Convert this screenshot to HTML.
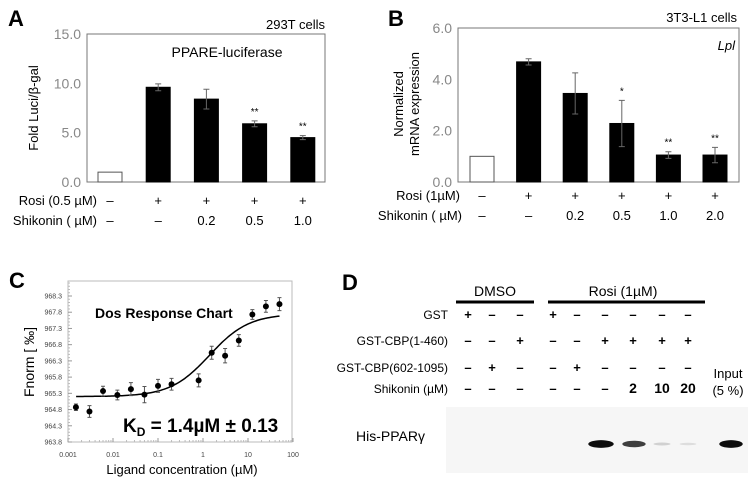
<!DOCTYPE html>
<html><head><meta charset="utf-8"><style>
html,body{margin:0;padding:0;background:#fff}
svg{display:block;font-family:"Liberation Sans",Arial,sans-serif}
</style></head><body>
<svg id="fig" width="754" height="480" viewBox="0 0 754 480" xmlns="http://www.w3.org/2000/svg">
<text x="8" y="26" font-size="22" font-weight="bold">A</text>
<text x="325" y="29" font-size="13" text-anchor="end">293T cells</text>
<text x="227" y="57" font-size="14" text-anchor="middle">PPARE-luciferase</text>
<text transform="translate(38,108) rotate(-90)" font-size="13" text-anchor="middle">Fold Luci/β-gal</text>
<g id="gA"></g>
<text x="97" y="205" font-size="13" text-anchor="end">Rosi (0.5 µM)</text>
<text x="97" y="225" font-size="13" text-anchor="end">Shikonin ( µM)</text>
<text x="388" y="26" font-size="22" font-weight="bold">B</text>
<text x="737" y="22" font-size="13" text-anchor="end">3T3-L1 cells</text>
<text x="735" y="50" font-size="13" font-style="italic" text-anchor="end">Lpl</text>
<text transform="translate(403,104) rotate(-90)" font-size="13" text-anchor="middle">Normalized</text>
<text transform="translate(419,104) rotate(-90)" font-size="13" text-anchor="middle">mRNA expression</text>
<g id="gB"></g>
<text x="460" y="200" font-size="13" text-anchor="end">Rosi (1µM)</text>
<text x="462" y="220" font-size="13" text-anchor="end">Shikonin ( µM)</text>
<text x="9" y="288" font-size="22" font-weight="bold">C</text>
<text transform="translate(34,362) rotate(-90)" font-size="14" text-anchor="middle">Fnorm [ ‰]</text>
<text x="182" y="474" font-size="13" text-anchor="middle">Ligand concentration (µM)</text>
<g id="gC"></g>
<text x="95" y="318" font-size="14" font-weight="bold">Dos Response Chart</text>
<text x="123" y="432" font-size="19" font-weight="bold">K<tspan font-size="12" dy="4">D</tspan><tspan dy="-4"> = 1.4µM ± 0.13</tspan></text>
<text x="342" y="290" font-size="22" font-weight="bold">D</text>
<text x="495" y="296" font-size="14" text-anchor="middle">DMSO</text>
<line x1="456" y1="302" x2="534" y2="302" stroke="#000" stroke-width="3"/>
<text x="623" y="296" font-size="14" text-anchor="middle">Rosi (1µM)</text>
<line x1="548" y1="302" x2="705" y2="302" stroke="#000" stroke-width="3"/>
<g id="gD" font-size="12"></g>
<text x="728" y="378" font-size="13" text-anchor="middle">Input</text>
<text x="728" y="395" font-size="13" text-anchor="middle">(5 %)</text>
<rect x="446" y="407" width="302" height="66" fill="#f6f6f6"/>
<text x="356" y="441" font-size="14">His-PPARγ</text>
<g id="gBands"></g>
</svg>
<script>
const aValues = [1.0, 9.6, 8.4, 5.9, 4.5];
const aErrors = [0, 0.35, 1.0, 0.3, 0.2];
const aStars = ["", "", "", "**", "**"];
const aRosi = ["–", "+", "+", "+", "+"];
const aShik = ["–", "–", "0.2", "0.5", "1.0"];
const aTicks = [0, 5, 10, 15];
const bValues = [1.0, 4.68, 3.45, 2.28, 1.05, 1.05];
const bErrors = [0, 0.12, 0.8, 0.9, 0.13, 0.3];
const bStars = ["", "", "", "*", "**", "**"];
const bRosi = ["–", "+", "+", "+", "+", "+"];
const bShik = ["–", "–", "0.2", "0.5", "1.0", "2.0"];
const bTicks = [0, 2, 4, 6];
const cConc = [0.0015, 0.003, 0.006, 0.0125, 0.025, 0.05, 0.1, 0.2, 0.8, 1.56, 3.1, 6.25, 12.5, 25, 50];
const cFnorm = [964.87, 964.74, 965.37, 965.25, 965.43, 965.26, 965.53, 965.58, 965.70, 966.55, 966.46, 966.93, 967.73, 967.98, 968.05];
const cErr = [0.1, 0.18, 0.15, 0.15, 0.2, 0.25, 0.2, 0.18, 0.2, 0.2, 0.22, 0.18, 0.15, 0.18, 0.2];
const cYTicks = [963.8, 964.3, 964.8, 965.3, 965.8, 966.3, 966.8, 967.3, 967.8, 968.3];
const cXTicks = [0.001, 0.01, 0.1, 1, 10, 100];
const cFit = {bottom: 965.2, top: 967.75, kd: 1.4};
const dRows = ["GST", "GST-CBP(1-460)", "GST-CBP(602-1095)", "Shikonin (µM)"];
const dTable = [
 ["+","–","–","+","–","–","–","–","–"],
 ["–","–","+","–","–","+","+","+","+"],
 ["–","+","–","–","+","–","–","–","–"],
 ["–","–","–","–","–","–","2","10","20"]];
const dBands = [0, 0, 0, 0, 0, 0.95, 0.75, 0.15, 0.1, 0.95];

const NS = "http://www.w3.org/2000/svg";
function mk(parent, tag, attrs, txt){const e=document.createElementNS(NS,tag);for(const k in attrs)e.setAttribute(k,attrs[k]);if(txt!==undefined)e.textContent=txt;parent.appendChild(e);return e;}

function barPanel(g, o){
  const y = v => o.y0 - (v - 0) / o.max * (o.y0 - o.y1);
  const x = i => o.x0c + i * o.step;
  const box = mk(g,"rect",{x:o.bx0,y:o.y1,width:o.bx1-o.bx0,height:o.y0-o.y1,fill:"none",stroke:"#777","stroke-width":1});
  
  
  o.ticks.forEach(t=>{
    const tl = mk(g,"text",{x:o.bx0-6,y:y(t)+5,"font-size":14,fill:"#888","text-anchor":"end"},t.toFixed(1));
    
    
  });
  o.values.forEach((v,i)=>{
    const cx=x(i);
    const b = mk(g,"rect",{x:cx-o.w/2,y:y(v),width:o.w,height:o.y0-y(v),fill:i===0?"#fff":"#000",stroke:i===0?"#555":"#000","stroke-width":1});
    
    
    const e=o.errors[i];
    if(e>0){
      const eb = mk(g,"path",{d:`M${cx},${y(v-e)}V${y(v+e)}M${cx-3},${y(v+e)}H${cx+3}M${cx-3},${y(v-e)}H${cx+3}`,stroke:"#666","stroke-width":1,fill:"none"});
      
      
    }
    if(o.stars[i]){
      const s = mk(g,"text",{x:cx,y:y(v+e)-6,"font-size":10,"text-anchor":"middle"},o.stars[i]);
      
      
    }
    const r = mk(g,"text",{x:cx,y:o.rowY1,"font-size":13,"text-anchor":"middle"},o.rosi[i]);
    
    
    const sh = mk(g,"text",{x:cx,y:o.rowY2,"font-size":13,"text-anchor":"middle"},o.shik[i]);
    
    
  });
}
barPanel(document.getElementById("gA"),{values:aValues,errors:aErrors,stars:aStars,rosi:aRosi,shik:aShik,ticks:aTicks,max:15,y0:182,y1:34,bx0:87,bx1:325,x0c:110,step:48.2,w:24,rowY1:205,rowY2:225});
barPanel(document.getElementById("gB"),{values:bValues,errors:bErrors,stars:bStars,rosi:bRosi,shik:bShik,ticks:bTicks,max:6,y0:182,y1:28,bx0:458,bx1:739,x0c:482,step:46.6,w:24,rowY1:200,rowY2:220});

(function(){
  const g=document.getElementById("gC");
  const X0=68,X1=293,Y0=442,Y1=296;
  const x=c=>X0+(Math.log10(c)+3)/5*(X1-X0);
  const y=v=>Y0-(v-963.8)/4.5*(Y0-Y1);
  const fr = mk(g,"rect",{x:X0,y:281,width:X1-X0-1,height:Y0-281,fill:"none",stroke:"#bbb","stroke-width":1});
  
  
  cYTicks.forEach(t=>{
    const l = mk(g,"text",{x:X0-6,y:y(t)+2.5,"font-size":7,fill:"#444","text-anchor":"end"},t.toFixed(1));
    
    
    mk(g,"line",{x1:X0,x2:X0+4,y1:y(t),y2:y(t),stroke:"#999"});
    for(let k=1;k<5;k++) mk(g,"line",{x1:X0,x2:X0+2,y1:y(t+k*0.1),y2:y(t+k*0.1),stroke:"#bbb"});
  });
  cXTicks.forEach((t,i)=>{
    const l = mk(g,"text",{x:x(t),y:Y0+15,"font-size":7,fill:"#444","text-anchor":"middle"},String(t));
    
    
    mk(g,"line",{x1:x(t),x2:x(t),y1:Y0,y2:Y0-4,stroke:"#999"});
    if(i<cXTicks.length-1) for(let k=2;k<10;k++) mk(g,"line",{x1:x(t*k),x2:x(t*k),y1:Y0,y2:Y0-2,stroke:"#bbb"});
  });
  let d="";
  for(let i=0;i<=120;i++){const c=Math.pow(10,-2.82+i/120*(Math.log10(50)+2.82));const v=cFit.bottom+(cFit.top-cFit.bottom)*c/(c+cFit.kd);d+=(i?"L":"M")+x(c).toFixed(1)+","+y(v).toFixed(1);}
  const fit = mk(g,"path",{d:d,fill:"none",stroke:"#000","stroke-width":1.5});
  
  
  cConc.forEach((c,i)=>{
    const px=x(c),py=y(cFnorm[i]),e=cErr[i];
    mk(g,"path",{d:`M${px},${y(cFnorm[i]-e)}V${y(cFnorm[i]+e)}M${px-2},${y(cFnorm[i]+e)}H${px+2}M${px-2},${y(cFnorm[i]-e)}H${px+2}`,stroke:"#555","stroke-width":1,fill:"none"});
    const p = mk(g,"circle",{cx:px,cy:py,r:3,fill:"#000"});
    
    
  });
})();

(function(){
  const g=document.getElementById("gD");
  const cols=[468,492,520,553,577,605,633,662,688];
  const rowsY=[319,345,372,393];
  dRows.forEach((r,j)=>{
    const l = mk(g,"text",{x:448,y:rowsY[j],"font-size":12,"text-anchor":"end"},r);
    
    
    dTable[j].forEach((v,i)=>{
      const t = mk(g,"text",{x:cols[i],y:rowsY[j],"font-size":j===3&&v!=="–"?14:13,"font-weight":"bold","text-anchor":"middle"},v);
      
      
    });
  });
  const gb=document.getElementById("gBands");
  const bx=[468,492,520,553,577,601,634,662,688,731];
  dBands.forEach((s,i)=>{
    if(s<=0) return;
    const w=i===9?24:26;
    const b = mk(gb,"ellipse",{cx:bx[i],cy:444,rx:w/2*(0.6+0.4*s),ry:1+3*s,fill:"#000","fill-opacity":s});
    
    
  });
})();
</script>
</body></html>
